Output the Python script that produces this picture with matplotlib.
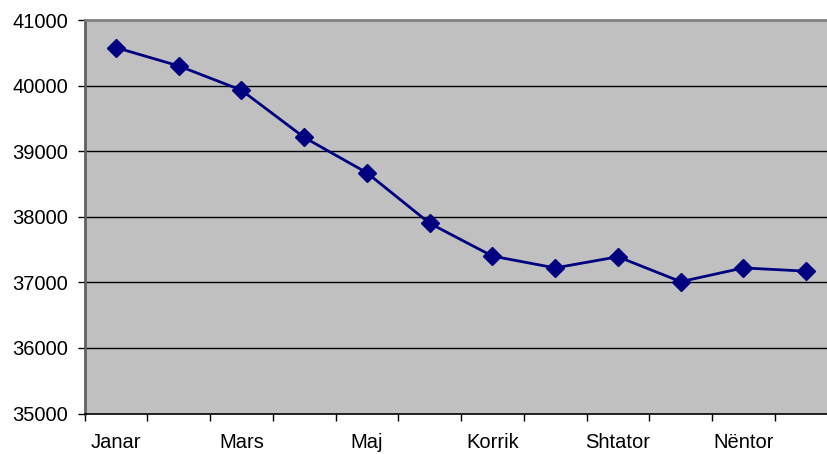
import matplotlib
matplotlib.use("Agg")
import matplotlib.pyplot as plt
from matplotlib.ticker import FixedLocator, NullFormatter

months = ["Janar", "Shkurt", "Mars", "Prill", "Maj", "Qershor",
          "Korrik", "Gusht", "Shtator", "Tetor", "Nëntor", "Dhjetor"]
values = [40580, 40300, 39930, 39210, 38670, 37900,
          37400, 37220, 37390, 37010, 37220, 37170]
y_ticks = [35000, 36000, 37000, 38000, 39000, 40000, 41000]

plt.rcParams['font.family'] = ['Liberation Sans', 'DejaVu Sans']

W, H = 827, 454
fig = plt.figure(figsize=(W / 100, H / 100), dpi=100)
left, right, top, bottom = 84.5, 837.6, 20, 413.5
ax = fig.add_axes([left / W, 1 - bottom / H, (right - left) / W, (bottom - top) / H])
ax.set_facecolor('#C0C0C0')

x = list(range(len(months)))
ax.plot(x, values, color='#000080', linewidth=2.0, marker='D', markersize=9.5,
        markerfacecolor='#000080', markeredgecolor='#000080', zorder=3, clip_on=False)

ax.set_xlim(-0.5, len(months) - 0.5)
ax.set_ylim(y_ticks[0], y_ticks[-1])

ax.set_yticks(y_ticks)
ax.set_yticklabels([str(v) for v in y_ticks], fontsize=14.5)
for v in y_ticks[1:-1]:
    ax.axhline(v, color='#000000', linewidth=1.0, zorder=1)

ax.xaxis.set_major_locator(FixedLocator([i - 0.5 for i in range(len(months) + 1)]))
ax.xaxis.set_major_formatter(NullFormatter())
ax.xaxis.set_minor_locator(FixedLocator(x))
ax.set_xticklabels([m if i % 2 == 0 else "" for i, m in enumerate(months)], minor=True, fontsize=14.5)
ax.tick_params(axis='x', which='major', length=5, width=1, color='#000000', direction='out')
ax.tick_params(axis='x', which='minor', length=0, pad=14)
ax.tick_params(axis='y', length=5, width=1, color='#000000', direction='out', pad=7)

ax.spines['top'].set_color('#808080')
ax.spines['top'].set_linewidth(2)
ax.spines['right'].set_visible(False)
ax.spines['left'].set_color('#606060')
ax.spines['left'].set_linewidth(2)
ax.spines['bottom'].set_color('#000000')
ax.spines['bottom'].set_linewidth(1.2)

fig.savefig('out.png', dpi=100)
